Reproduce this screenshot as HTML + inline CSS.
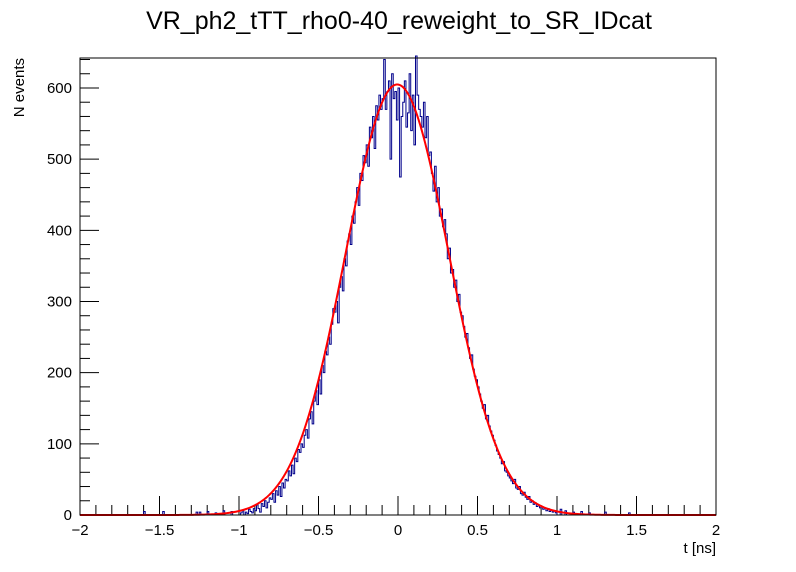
<!DOCTYPE html>
<html><head><meta charset="utf-8"><style>
body{margin:0;background:#fff}
svg{display:block;font-family:"Liberation Sans",sans-serif}
</style></head><body>
<svg id="c" width="796" height="572">
<rect width="796" height="572" fill="#fff"/>
<text x="399" y="29" font-size="25" text-anchor="middle">VR_ph2_tTT_rho0-40_reweight_to_SR_IDcat</text>
<text x="0" y="0" font-size="15" text-anchor="end" transform="translate(24,58) rotate(-90)">N events</text>
<text x="716" y="553" font-size="15" text-anchor="end">t [ns]</text>
<g id="ax"></g><g id="plot"></g>
<rect x="80" y="58" width="636" height="457" fill="none" stroke="#000" stroke-width="1"/>
</svg>
<script>
const binStart=-1.0, binWidth=0.01;
const counts=[0,3,6,0,4,2,8,5,3,9,
6,14,9,4,16,12,20,10,18,24,
22,30,18,34,28,40,26,45,38,50,
48,62,55,70,58,80,75,92,88,100,
95,112,120,108,135,145,128,160,175,155,
190,170,210,200,230,225,250,240,268,290,
285,300,270,320,335,315,360,350,385,395,
380,420,410,440,460,435,480,470,505,495,
520,490,545,530,560,515,575,555,590,570,
585,640,570,595,610,500,620,585,595,555,
600,475,560,580,610,545,565,620,540,590,
520,645,590,570,560,545,580,530,560,505,
510,480,455,490,440,460,420,430,405,415,
395,360,375,340,345,320,330,300,310,285,
280,265,250,255,235,220,225,205,195,190,
180,170,160,150,155,135,140,125,118,112,
105,98,90,85,80,72,75,62,60,55,
52,48,44,50,38,36,40,30,28,32,
25,22,26,18,20,15,17,12,14,10,
12,8,10,6,9,5,7,4,6,3];
const tailBins=[-1.6,-1.48,-1.27,-1.25,-1.2,-1.15,-1.1,-1.05,1.02,1.05,1.1,1.15,1.2,1.3,1.45];
const tailCounts=[5,5,4,4,5,3,6,5,8,6,4,5,3,4,3];
const fitAmp=605, fitMean=-0.005, fitSigma=0.325;
const xTicks=[-2,-1.5,-1,-0.5,0,0.5,1,1.5,2];
const xTickLabels=["\u22122","\u22121.5","\u22121","\u22120.5","0","0.5","1","1.5","2"];
const yTicks=[0,100,200,300,400,500,600];
const yTickLabels=["0","100","200","300","400","500","600"];
const X=v=>80+(v+2)*159, Y=v=>515-v*0.7117;
const NS="http://www.w3.org/2000/svg";
function mk(tag,attrs,parent){const e=document.createElementNS(NS,tag);for(const k in attrs)e.setAttribute(k,attrs[k]);parent.appendChild(e);return e;}
const ax=document.getElementById('ax'),plot=document.getElementById('plot');
for(let i=0;i<=40;i++){const v=-2+i*0.1;const major=i%5===0;
 const t=mk('line',{x1:X(v),x2:X(v),y1:515,y2:515-(major?19:10),stroke:'#000'},ax);
 
 }
xTicks.forEach((v,i)=>{const t=mk('text',{x:X(v),y:535,'font-size':15,'text-anchor':'middle'},ax);t.textContent=xTickLabels[i];
 
 });
for(let v=0;v<=640;v+=20){const major=v%100===0;
 const t=mk('line',{x1:80,x2:80+(major?19:10),y1:Y(v),y2:Y(v),stroke:'#000'},ax);
 
 }
yTicks.forEach((v,i)=>{const t=mk('text',{x:72,y:Y(v)+5,'font-size':15,'text-anchor':'end'},ax);t.textContent=yTickLabels[i];
 
 });
let d=`M${X(-2)},${Y(0)}`;
counts.forEach((c,i)=>{const a=binStart+i*binWidth;d+=` L${X(a)},${Y(c)} L${X(a+binWidth)},${Y(c)}`;});
d+=` L${X(binStart+counts.length*binWidth)},${Y(0)} L${X(2)},${Y(0)}`;
const h=mk('path',{d:d,fill:'none',stroke:'#00008b','stroke-width':1},plot);


tailBins.forEach((a,i)=>{const p=mk('path',{d:`M${X(a)},${Y(0)} L${X(a)},${Y(tailCounts[i])} L${X(a+binWidth)},${Y(tailCounts[i])} L${X(a+binWidth)},${Y(0)}`,fill:'none',stroke:'#00008b','stroke-width':1},plot);
 
 });
let f='';for(let i=0;i<=400;i++){const x=-2+i*0.01;const y=fitAmp*Math.exp(-Math.pow(x-fitMean,2)/(2*fitSigma*fitSigma));f+=(i?' L':'M')+X(x)+','+Y(y);}
const fp=mk('path',{d:f,fill:'none',stroke:'#ff0000','stroke-width':2},plot);


</script>
</body></html>
